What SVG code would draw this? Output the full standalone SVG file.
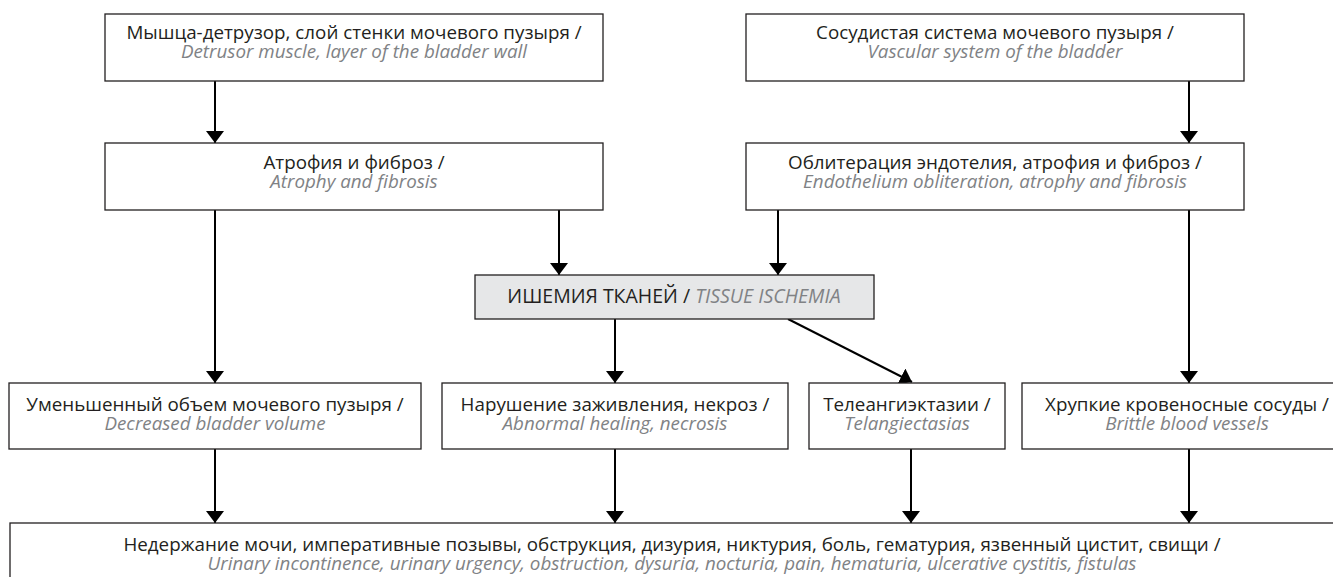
<svg xmlns="http://www.w3.org/2000/svg" width="1333" height="577" viewBox="0 0 1333 577">
  <style>
    .box { fill: #ffffff; stroke: #231f20; stroke-width: 1.3; }
    .box.grey { fill: #e6e7e8; }
    .label { font-family: "Open Sans", "Noto Sans", sans-serif; font-size: 18.8px; fill: #231f20; text-anchor: middle; }
    .en { font-style: italic; fill: #808285; }
    .link { fill: none; stroke: #000000; stroke-width: 2; marker-end: url(#head); }
  </style>
  <defs>
    <!-- filled triangular arrowhead, 12 long and 18 wide -->
    <marker id="head" markerUnits="userSpaceOnUse" markerWidth="12" markerHeight="18" refX="12" refY="9" orient="auto">
      <path d="M0,0 L12,9 L0,18 z" fill="#000000"/>
    </marker>
  </defs>
  <rect width="1333" height="577" fill="#ffffff"/>

  <!-- connectors -->
  <g id="connectors">
    <line class="link" x1="215" y1="81" x2="215" y2="143"/>
    <line class="link" x1="1189" y1="81" x2="1189" y2="143"/>
    <line class="link" x1="215" y1="210" x2="215" y2="383"/>
    <line class="link" x1="559" y1="210" x2="559" y2="275"/>
    <line class="link" x1="778" y1="210" x2="778" y2="275"/>
    <line class="link" x1="1189" y1="210" x2="1189" y2="383"/>
    <line class="link" x1="615" y1="319" x2="615" y2="383"/>
    <line class="link" x1="788" y1="319" x2="912" y2="382"/>
    <line class="link" x1="215" y1="449" x2="215" y2="523"/>
    <line class="link" x1="615" y1="449" x2="615" y2="523"/>
    <line class="link" x1="911" y1="449" x2="911" y2="523"/>
    <line class="link" x1="1189" y1="449" x2="1189" y2="523"/>
  </g>

  <g id="detrusor">
    <rect class="box" x="105" y="14" width="498" height="67"/>
    <text class="label" x="354" y="39">Мышца-детрузор, слой стенки мочевого пузыря /<tspan class="en" x="354" dy="19">Detrusor muscle, layer of the bladder wall</tspan></text>
  </g>

  <g id="vascular">
    <rect class="box" x="746" y="14" width="498" height="67"/>
    <text class="label" x="995" y="39">Сосудистая система мочевого пузыря /<tspan class="en" x="995" dy="19">Vascular system of the bladder</tspan></text>
  </g>

  <g id="atrophy">
    <rect class="box" x="105" y="143" width="498" height="67"/>
    <text class="label" x="354" y="169">Атрофия и фиброз /<tspan class="en" x="354" dy="19">Atrophy and fibrosis</tspan></text>
  </g>

  <g id="obliteration">
    <rect class="box" x="746" y="143" width="498" height="67"/>
    <text class="label" x="995" y="169">Облитерация эндотелия, атрофия и фиброз /<tspan class="en" x="995" dy="19">Endothelium obliteration, atrophy and fibrosis</tspan></text>
  </g>

  <g id="ischemia">
    <rect class="box grey" x="475" y="275" width="399" height="44"/>
    <text class="label" x="674" y="303" style="font-size:19.5px">ИШЕМИЯ ТКАНЕЙ / <tspan class="en">TISSUE ISCHEMIA</tspan></text>
  </g>

  <g id="volume">
    <rect class="box" x="9" y="383" width="412" height="66"/>
    <text class="label" x="215" y="411">Уменьшенный объем мочевого пузыря /<tspan class="en" x="215" dy="19">Decreased bladder volume</tspan></text>
  </g>

  <g id="healing">
    <rect class="box" x="442" y="383" width="346" height="66"/>
    <text class="label" x="615" y="411">Нарушение заживления, некроз /<tspan class="en" x="615" dy="19">Abnormal healing, necrosis</tspan></text>
  </g>

  <g id="telangiectasia">
    <rect class="box" x="809" y="383" width="196" height="66"/>
    <text class="label" x="907" y="411">Телеангиэктазии /<tspan class="en" x="907" dy="19">Telangiectasias</tspan></text>
  </g>

  <g id="vessels">
    <rect class="box" x="1022" y="383" width="340" height="66"/>
    <text class="label" x="1187" y="411">Хрупкие кровеносные сосуды /<tspan class="en" x="1187" dy="19">Brittle blood vessels</tspan></text>
  </g>

  <g id="symptoms">
    <rect class="box" x="10" y="523" width="1340" height="80"/>
    <text class="label" x="672" y="551">Недержание мочи, императивные позывы, обструкция, дизурия, никтурия, боль, гематурия, язвенный цистит, свищи /<tspan class="en" x="672" dy="19">Urinary incontinence, urinary urgency, obstruction, dysuria, nocturia, pain, hematuria, ulcerative cystitis, fistulas</tspan></text>
  </g>
</svg>
